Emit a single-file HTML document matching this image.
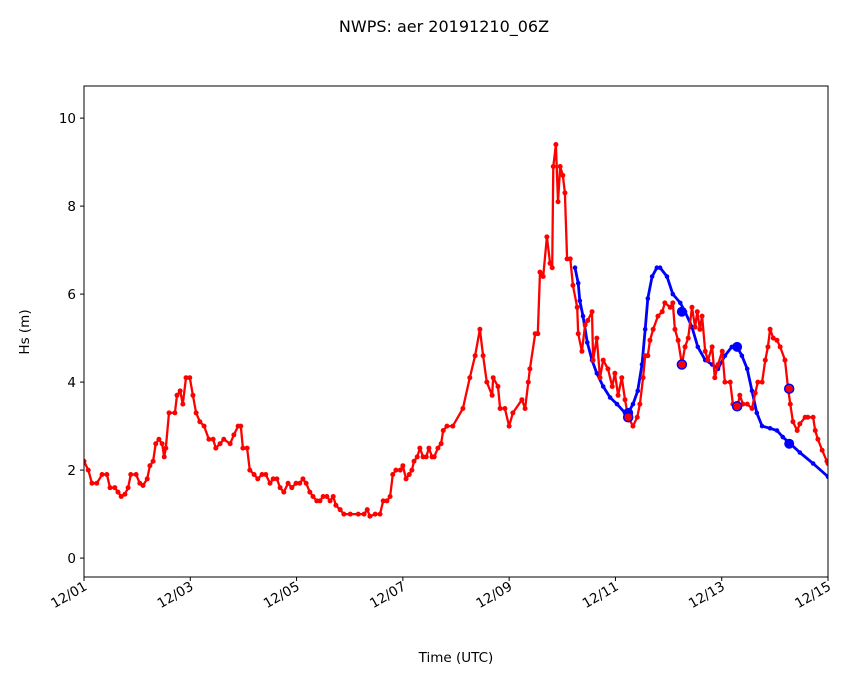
<!DOCTYPE html>
<html><head><meta charset="utf-8"><style>
html,body{margin:0;padding:0;background:#fff;}
svg{display:block;font-family:"DejaVu Sans","Liberation Sans",sans-serif;}
</style></head><body>
<svg id="chart" width="846" height="681" viewBox="0 0 846 681">
<text x="444" y="32" text-anchor="middle" font-size="16">NWPS: aer 20191210_06Z</text>
<g id="plot"></g>
<g id="axes"></g>
<text x="456" y="662" text-anchor="middle" font-size="13.5">Time (UTC)</text>
<text transform="translate(29,332) rotate(-90)" text-anchor="middle" font-size="13.5">Hs (m)</text>
</svg>
<script>
const xTickDays=[0,2,4,6,8,10,12,14];
const xTickLabels=["12/01","12/03","12/05","12/07","12/09","12/11","12/13","12/15"];
const yTicks=[0,2,4,6,8,10];
const obsDays=[0,.08,.15,.24,.34,.43,.49,.58,.64,.70,.77,.83,.88,.98,1.05,1.11,1.19,1.24,1.30,1.35,1.41,1.47,1.51,1.54,1.60,1.71,1.75,1.81,1.86,1.92,1.99,2.05,2.11,2.18,2.26,2.35,2.43,2.48,2.56,2.63,2.75,2.82,2.90,2.95,2.99,3.07,3.12,3.20,3.27,3.35,3.42,3.50,3.56,3.63,3.69,3.76,3.84,3.91,3.99,4.06,4.12,4.18,4.25,4.31,4.38,4.44,4.50,4.57,4.63,4.69,4.74,4.82,4.89,5.01,5.16,5.27,5.33,5.38,5.48,5.57,5.63,5.70,5.76,5.81,5.87,5.95,6.00,6.06,6.12,6.17,6.21,6.27,6.32,6.38,6.44,6.49,6.55,6.59,6.66,6.72,6.76,6.83,6.94,7.13,7.26,7.36,7.45,7.51,7.58,7.68,7.70,7.79,7.83,7.92,8.00,8.07,8.24,8.30,8.36,8.39,8.49,8.54,8.58,8.64,8.71,8.77,8.81,8.83,8.88,8.92,8.96,9.01,9.05,9.09,9.15,9.20,9.28,9.30,9.37,9.43,9.48,9.56,9.58,9.65,9.71,9.77,9.86,9.94,9.99,10.05,10.12,10.18,10.24,10.33,10.41,10.46,10.52,10.56,10.61,10.65,10.71,10.80,10.88,10.93,11.03,11.08,11.12,11.18,11.25,11.31,11.37,11.44,11.50,11.54,11.59,11.63,11.69,11.74,11.82,11.87,11.93,12.01,12.06,12.16,12.21,12.29,12.34,12.40,12.48,12.57,12.63,12.68,12.76,12.82,12.87,12.91,12.97,13.04,13.10,13.19,13.25,13.29,13.34,13.42,13.47,13.57,13.62,13.72,13.76,13.81,13.89,13.98,14.0];
const obsHs=[2.2,2.0,1.7,1.7,1.9,1.9,1.6,1.6,1.5,1.4,1.45,1.6,1.9,1.9,1.7,1.65,1.8,2.1,2.2,2.6,2.7,2.6,2.3,2.5,3.3,3.3,3.7,3.8,3.5,4.1,4.1,3.7,3.3,3.1,3.0,2.7,2.7,2.5,2.6,2.7,2.6,2.8,3.0,3.0,2.5,2.5,2.0,1.9,1.8,1.9,1.9,1.7,1.8,1.8,1.6,1.5,1.7,1.6,1.7,1.7,1.8,1.7,1.5,1.4,1.3,1.3,1.4,1.4,1.3,1.4,1.2,1.1,1.0,1.0,1.0,1.0,1.1,0.95,1.0,1.0,1.3,1.3,1.4,1.9,2.0,2.0,2.1,1.8,1.9,2.0,2.2,2.3,2.5,2.3,2.3,2.5,2.3,2.3,2.5,2.6,2.9,3.0,3.0,3.4,4.1,4.6,5.2,4.6,4.0,3.7,4.1,3.9,3.4,3.4,3.0,3.3,3.6,3.4,4.0,4.3,5.1,5.1,6.5,6.4,7.3,6.7,6.6,8.9,9.4,8.1,8.9,8.7,8.3,6.8,6.8,6.2,5.7,5.1,4.7,5.3,5.4,5.6,4.5,5.0,4.1,4.5,4.3,3.9,4.2,3.7,4.1,3.6,3.2,3.0,3.2,3.5,4.1,4.6,4.6,4.95,5.2,5.5,5.6,5.8,5.7,5.8,5.2,4.95,4.4,4.8,5.0,5.7,5.25,5.6,5.2,5.5,4.7,4.5,4.8,4.1,4.4,4.7,4.0,4.0,3.5,3.4,3.7,3.5,3.5,3.4,3.75,4.0,4.0,4.5,4.8,5.2,5.0,4.95,4.8,4.5,3.85,3.5,3.1,2.9,3.05,3.2,3.2,3.2,2.9,2.7,2.45,2.2,2.15];
const fcDays=[9.24,9.30,9.33,9.39,9.47,9.56,9.65,9.77,9.90,10.03,10.18,10.24,10.33,10.42,10.50,10.56,10.61,10.69,10.78,10.84,10.97,11.08,11.22,11.31,11.44,11.55,11.69,11.82,11.93,12.06,12.19,12.29,12.38,12.48,12.57,12.66,12.76,12.91,13.04,13.15,13.29,13.47,13.72,14.0];
const fcHs=[6.6,6.25,5.85,5.5,4.9,4.5,4.2,3.9,3.65,3.5,3.3,3.3,3.5,3.8,4.4,5.2,5.9,6.4,6.6,6.6,6.4,6.0,5.8,5.6,5.25,4.8,4.5,4.4,4.3,4.6,4.8,4.8,4.6,4.3,3.8,3.3,3.0,2.95,2.9,2.75,2.6,2.4,2.15,1.85];
const matchDays=[10.24,11.25,12.29,13.27];
const matchFcHs=[3.3,5.6,4.8,2.6];
const matchObsHs=[3.2,4.4,3.45,3.85];

const NS="http://www.w3.org/2000/svg";
const L=84,R=828,T=86,B=577,xMin=0,xMax=14,yMin=-0.43,yMax=10.73;
const xs=d=>L+(d-xMin)/(xMax-xMin)*(R-L);
const ys=v=>B-(v-yMin)/(yMax-yMin)*(B-T);
function mk(tag,attrs,parent){const e=document.createElementNS(NS,tag);for(const k in attrs)e.setAttribute(k,attrs[k]);parent.appendChild(e);return e;}
const plot=document.getElementById('plot'),axes=document.getElementById('axes');
const clip=mk('clipPath',{id:'cp'},plot);mk('rect',{x:L,y:T,width:R-L,height:B-T},clip);
const g=mk('g',{'clip-path':'url(#cp)'},plot);

function series(days,vals,color,name,sw,r){
  const pts=days.map((d,i)=>xs(d).toFixed(1)+','+ys(vals[i]).toFixed(1)).join(' ');
  const pl=mk('polyline',{points:pts,fill:'none',stroke:color,'stroke-width':sw,'stroke-linejoin':'round'},g);
  
  
  days.forEach((d,i)=>{
    const c=mk('circle',{cx:xs(d),cy:ys(vals[i]),r:r,fill:color},g);
    
    
  });
}
series(fcDays,fcHs,'#0000ff','forecast',2.8,2.3);
series(obsDays,obsHs,'#ff0000','observed',2.3,2.5);
matchDays.forEach((d,i)=>{
  const a=mk('circle',{cx:xs(d),cy:ys(matchFcHs[i]),r:5,fill:'#0000ff'},g);
  
  
  const b=mk('circle',{cx:xs(d),cy:ys(matchObsHs[i]),r:4.5,fill:'#ff0000',stroke:'#0000ff','stroke-width':1.5},g);
  
  
});

const frame=mk('rect',{x:L,y:T,width:R-L,height:B-T,fill:'none',stroke:'#000','stroke-width':1},axes);


yTicks.forEach(v=>{
  const y=ys(v);
  mk('line',{x1:L-4,x2:L,y1:y,y2:y,stroke:'#000'},axes);
  const t=mk('text',{x:L-8,y:y+5,'text-anchor':'end','font-size':13.5},axes);
  t.textContent=v;
  
  
});
xTickDays.forEach((d,i)=>{
  const x=xs(d);
  mk('line',{x1:x,x2:x,y1:B,y2:B+4,stroke:'#000'},axes);
  const t=mk('text',{x:x+4,y:B+12,'text-anchor':'end','font-size':13.5,transform:`rotate(-30 ${x+4} ${B+12})`},axes);
  t.textContent=xTickLabels[i];
  
  
});
</script>
</body></html>
